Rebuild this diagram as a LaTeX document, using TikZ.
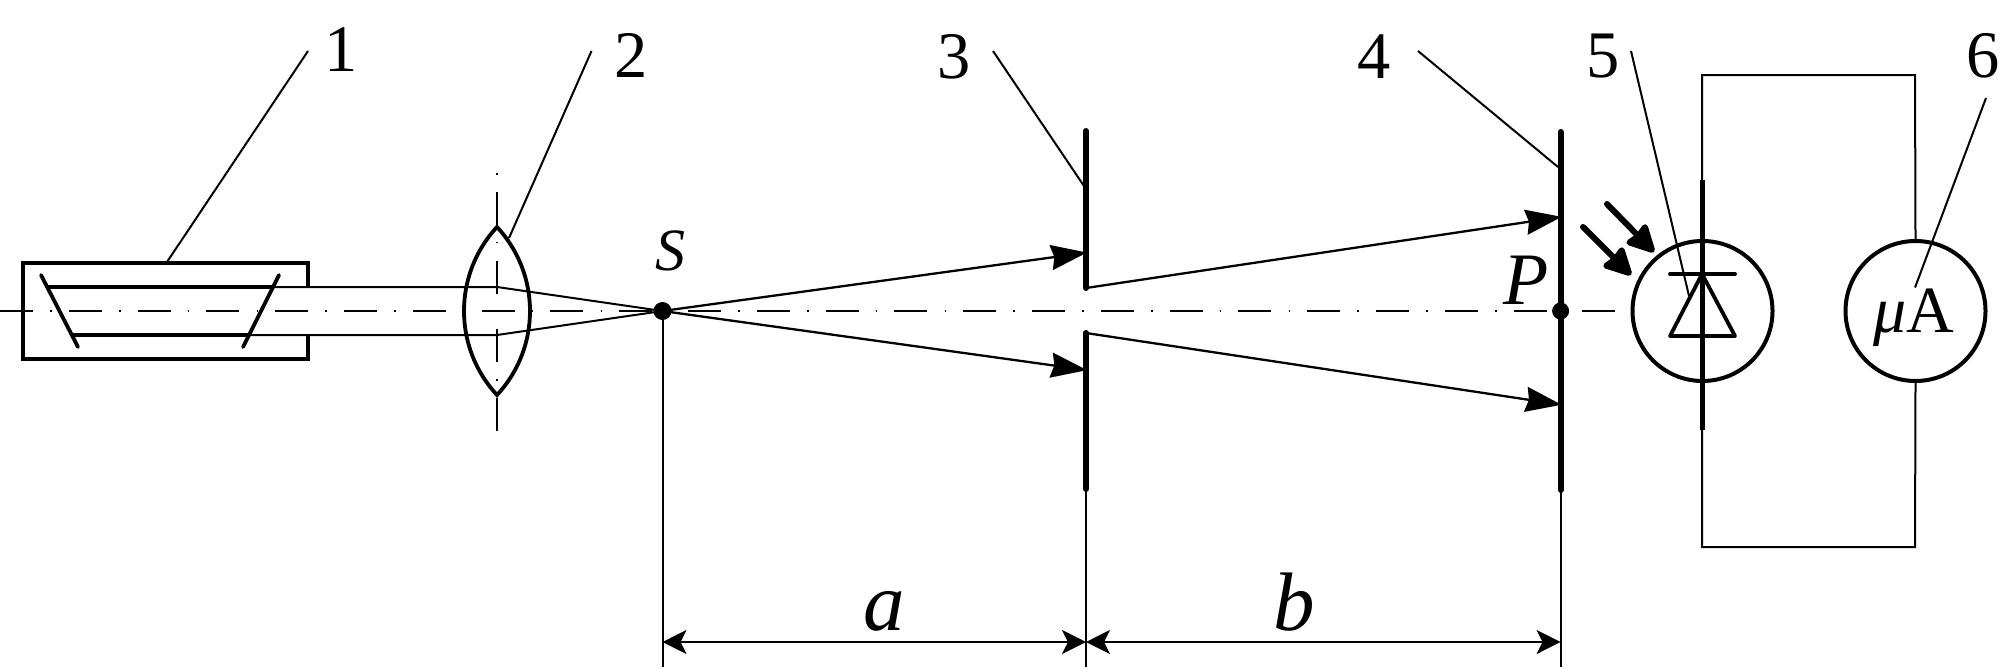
\documentclass[tikz,border=0pt]{standalone}
\usepackage{fontspec}
\setmainfont{Liberation Serif}
\usetikzlibrary{arrows.meta}
\tikzset{
  thinline/.style={line width=2pt},
  medline/.style={line width=3.8pt},
  heavyline/.style={line width=6pt,line cap=round},
  axisline/.style={line width=1.9pt},
  rayarrow/.style={line width=2.3pt,-{Stealth[length=36pt,width=25pt,inset=3pt]},shorten >=-1pt},
  lightarrow/.style={line width=6pt,line cap=round,-{Stealth[length=31pt,width=31pt,inset=2pt,round=false]}},
  dimarrow/.style={line width=2pt,{Stealth[length=24pt,width=24pt,inset=6pt]}-{Stealth[length=24pt,width=24pt,inset=6pt]}},
  numlabel/.style={inner sep=0pt,anchor=base,font=\fontsize{66.5}{70}\selectfont},
  itlabel/.style={inner sep=0pt,anchor=base,font=\fontsize{#1}{80}\selectfont\itshape},
  dotmark/.style={circle,fill=black,inner sep=0pt,minimum size=18pt},
  meter/.style={circle,draw=black,line width=4pt,inner sep=0pt,minimum size=140pt},
}
\begin{document}
\begin{tikzpicture}[x=1pt,y=-1pt,line join=miter]
\useasboundingbox (0,0) rectangle (2001,667);
% coordinates
\coordinate (axL) at (0,311);
\coordinate (axR) at (1615,311);
\coordinate (lensT) at (497,227);
\coordinate (lensB) at (497,395);
\coordinate (vaT) at (497,173);
\coordinate (vaB) at (497,432);
\coordinate (Sb) at (662.5,667);
\coordinate (t3a) at (1086,131);
\coordinate (t3b) at (1086,288);
\coordinate (b3a) at (1086,333);
\coordinate (b3b) at (1086,489);
\coordinate (e3) at (1086,667);
\coordinate (r3t) at (1086,252.7);
\coordinate (r3b) at (1086,370);
\coordinate (t4a) at (1560.6,132);
\coordinate (t4b) at (1560.6,490);
\coordinate (e4) at (1560.6,667);
\coordinate (r4t) at (1560.6,217);
\coordinate (r4b) at (1560.6,404.6);
\coordinate (dimS) at (662.5,642);
\coordinate (dim3) at (1086,642);
\coordinate (dim4) at (1560.6,642);
% axes
\draw[axisline,dash pattern=on 33pt off 17.1pt on 1.6pt off 17.1pt] (axL) -- (axR);
\draw[axisline,dash pattern=on 1.6pt off 17.1pt on 33pt off 17.1pt] (vaT) -- (vaB);
% laser
\draw[medline] (308,287) -- (308,263) -- (23,263) -- (23,359) -- (308,359) -- (308,335);
\draw[medline,line cap=round] (41,275) -- (78,347);
\draw[medline,line cap=round] (279,275) -- (243,347);
\draw[medline] (48,287) -- (272,287);
\draw[medline] (72,335) -- (248,335);
% lens
\draw[medline] (lensT) .. controls (453,274.3) and (453,347.7) .. (lensB)
   .. controls (541,347.7) and (541,274.3) .. cycle;
% source
\node[dotmark] (S) at (662.5,311) {};
\draw[thinline] (272,287) -- (497,287) -- (S.center);
\draw[thinline] (248,335) -- (497,335) -- (S.center);
\draw[thinline] (S.center) -- (Sb);
\draw[rayarrow] (S.center) -- (r3t);
\draw[rayarrow] (S.center) -- (r3b);
% screens
\draw[heavyline] (t3a) -- (t3b);
\draw[heavyline] (b3a) -- (b3b);
\draw[thinline] (b3b) -- (e3);
\draw[heavyline] (t4a) -- (t4b);
\draw[thinline] (t4b) -- (e4);
\draw[rayarrow] (t3b) -- (r4t);
\draw[rayarrow] (b3a) -- (r4b);
\node[dotmark,minimum size=17pt] (P) at (1560.6,311) {};
% detector and meter
\node[meter] (D) at (1702.5,311) {};
\node[meter] (M) at (1915.5,311) {};
\draw[thinline] (1702,180) -- (1702,75) -- (1915,75) -- (M.north);
\draw[thinline] (M.south) -- (1915,547) -- (1702,547) -- (1702,430);
\draw[line width=5pt] (1702,180) -- (1702,430);
\draw[medline,line cap=round] (1670,274) -- (1735,274);
\draw[medline,line cap=round,line join=round] (1702,274) -- (1735,336) -- (1670,336) -- cycle;
\draw[lightarrow] (1607,204) -- (1654,252);
\draw[lightarrow] (1583,227) -- (1631,275);
% dimensions
\draw[dimarrow] (dimS) -- (dim3);
\draw[dimarrow] (dim3) -- (dim4);
% leaders
\coordinate (l1a) at (308,51); \coordinate (l1b) at (167,262);
\coordinate (l2a) at (591.5,51); \coordinate (l2b) at (509,238);
\coordinate (l3a) at (993,51); \coordinate (l3b) at (1086,189);
\coordinate (l4a) at (1418,51); \coordinate (l4b) at (1558,167);
\coordinate (l5a) at (1631,51); \coordinate (l5b) at (1689,296);
\coordinate (l6a) at (1986,98); \coordinate (l6b) at (1915,287.5);
\draw[thinline] (l1a) -- (l1b);
\draw[thinline] (l2a) -- (l2b);
\draw[thinline] (l3a) -- (l3b);
\draw[thinline] (l4a) -- (l4b);
\draw[thinline] (l5a) -- (l5b);
\draw[thinline] (l6a) -- (l6b);
% labels
\node[numlabel] (n1) at (341,71) {1};
\node[numlabel] (n2) at (631.5,77) {2};
\node[numlabel] (n3) at (954,78) {3};
\node[numlabel] (n4) at (1374,78) {4};
\node[numlabel] (n5) at (1603,77) {5};
\node[numlabel] (n6) at (1983,77) {6};
\node[itlabel=60] (ls) at (670,270) {S};
\node[itlabel=74] (lp) at (1526,304) {P};
\node[itlabel=83] (la) at (884,630) {a};
\node[itlabel=83] (lb) at (1294,630) {b};
\node[inner sep=0pt,anchor=base] (lm) at (1914,332) {\fontsize{66}{70}\selectfont\itshape μ\upshape A};
\end{tikzpicture}
\end{document}
